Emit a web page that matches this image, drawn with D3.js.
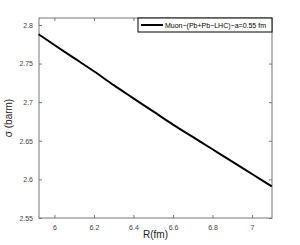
<!DOCTYPE html>
<html>
<head>
<meta charset="utf-8">
<script src="https://cdn.jsdelivr.net/npm/d3@7"></script>
<style>
  body { margin: 0; background: #fff; }
  text { font-family: "Liberation Sans", Arial, sans-serif; }
</style>
</head>
<body>
<script>
// sigma vs R
const radius = [5.92, 6.0, 6.1, 6.2, 6.3, 6.4, 6.5, 6.6, 6.7, 6.8, 6.9, 7.0, 7.1];
const sigma = [2.788, 2.774, 2.757, 2.740, 2.722, 2.705, 2.688, 2.671, 2.655, 2.639, 2.623, 2.607, 2.591];
const xTicks = [6, 6.2, 6.4, 6.6, 6.8, 7];
const yTicks = [2.55, 2.6, 2.65, 2.7, 2.75, 2.8];
const seriesName = 'Muon\u2212(Pb+Pb\u2212LHC)\u2212a=0.55 fm';

const width = 300, height = 245;
const margin = {top: 18, right: 28, bottom: 27, left: 39};
const w = width - margin.left - margin.right;
const h = height - margin.top - margin.bottom;

const x = d3.scaleLinear().domain([5.922, 7.101]).range([0, w]);
const y = d3.scaleLinear().domain([2.55, 2.809]).range([h, 0]);

const $svg = d3.select('body').append('svg').attr('width', width).attr('height', height);
const $g = $svg.append('g').attr('transform', `translate(${margin.left}, ${margin.top})`);

const axisColor = '#777';
const fmt = d => d3.format('')(d);

function styleAxis($a, labels) {
  $a.select('.domain').remove();
  $a.selectAll('.tick line').attr('stroke', axisColor);
  $a.selectAll('.tick text')
    .attr('fill', labels ? '#444' : 'none')
    .style('font-size', '7px');
}

$g.append('g')
  .attr('transform', `translate(0, ${h})`)
  .call(d3.axisBottom(x).tickValues(xTicks).tickFormat(fmt).tickSizeInner(-3).tickSizeOuter(0).tickPadding(7))
  .call(a => styleAxis(a, true));

$g.append('g')
  .call(d3.axisTop(x).tickValues(xTicks).tickSizeInner(-3).tickSizeOuter(0).tickFormat(''))
  .call(a => styleAxis(a, false));

$g.append('g')
  .call(d3.axisLeft(y).tickValues(yTicks).tickFormat(fmt).tickSizeInner(-3).tickSizeOuter(0).tickPadding(6))
  .call(a => styleAxis(a, true));

$g.append('g')
  .attr('transform', `translate(${w}, 0)`)
  .call(d3.axisRight(y).tickValues(yTicks).tickSizeInner(-3).tickSizeOuter(0).tickFormat(''))
  .call(a => styleAxis(a, false));

$g.append('rect')
  .attr('width', w).attr('height', h)
  .attr('fill', 'none').attr('stroke', axisColor).attr('stroke-width', 1);

const line = d3.line().x((d, i) => x(radius[i])).y(d => y(d)).curve(d3.curveMonotoneX);

$g.append('path')
  .datum(sigma)
  .attr('d', line)
  .attr('fill', 'none')
  .attr('stroke', '#000')
  .attr('stroke-width', 2);

// legend
const lgW = 134, lgH = 14;
const $lg = $g.append('g').attr('transform', `translate(${w - lgW}, 0)`);
$lg.append('rect').attr('width', lgW).attr('height', lgH)
  .attr('fill', '#fff').attr('stroke', '#000').attr('stroke-width', 1);
$lg.append('line').attr('x1', 3).attr('x2', 25).attr('y1', lgH / 2).attr('y2', lgH / 2)
  .attr('stroke', '#000').attr('stroke-width', 2);
$lg.append('text').attr('x', 27).attr('y', lgH / 2 + 2.5)
  .style('font-size', '7px').attr('fill', '#000').text(seriesName);

// axis labels
$svg.append('text')
  .attr('x', margin.left + w / 2).attr('y', 238)
  .attr('text-anchor', 'middle').style('font-size', '10px').attr('fill', '#222')
  .text('R(fm)');

$svg.append('text')
  .attr('transform', `translate(12, ${margin.top + h / 2}) rotate(-90)`)
  .attr('text-anchor', 'middle').style('font-size', '10px').attr('fill', '#222')
  .text('\u03c3 (barm)');
</script>
</body>
</html>
